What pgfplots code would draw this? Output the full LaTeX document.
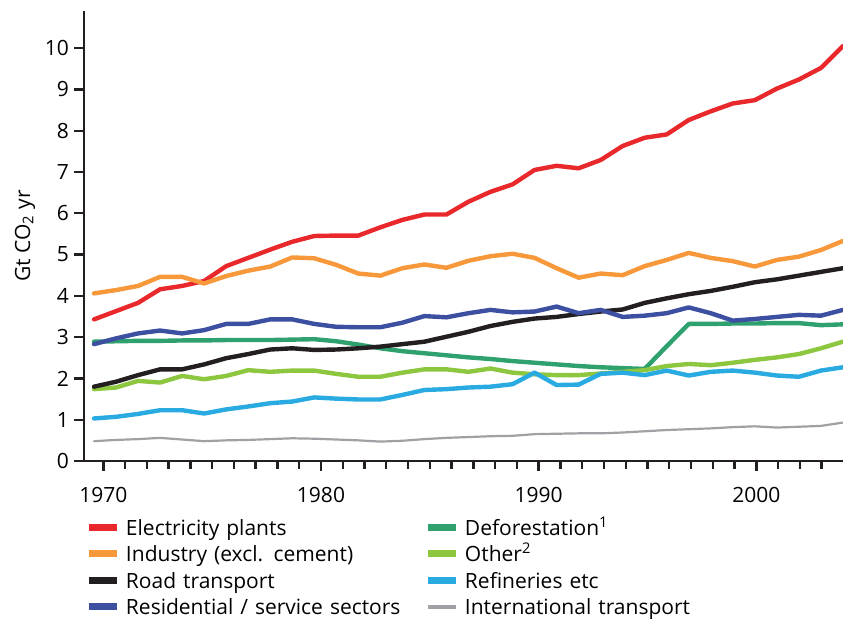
\documentclass[border=0pt]{standalone}
\usepackage{pgfplots}
\usepackage{pgfplotstable}
\usepackage{fontspec}
\setmainfont{Open Sans}
\pgfplotsset{compat=1.18}

\definecolor{cElec}{HTML}{E8282B}
\definecolor{cInd}{HTML}{F7983A}
\definecolor{cRoad}{HTML}{231F20}
\definecolor{cRes}{HTML}{3C4FA0}
\definecolor{cDef}{HTML}{2FA16F}
\definecolor{cOth}{HTML}{8DC63F}
\definecolor{cRef}{HTML}{29ABE2}
\definecolor{cInt}{HTML}{9FA1A4}

\pgfplotstableread{
year elec  ind  road res  def  oth  ref  intl
1970 3.43 4.06 1.80 2.83 2.89 1.74 1.03 0.48
1971 3.63 4.14 1.92 2.97 2.90 1.78 1.07 0.51
1972 3.83 4.24 2.08 3.09 2.91 1.94 1.14 0.53
1973 4.16 4.46 2.22 3.16 2.91 1.90 1.23 0.56
1974 4.24 4.46 2.22 3.09 2.92 2.06 1.23 0.52
1975 4.36 4.30 2.34 3.17 2.92 1.98 1.15 0.48
1976 4.72 4.48 2.49 3.32 2.93 2.06 1.25 0.50
1977 4.92 4.61 2.59 3.32 2.93 2.20 1.32 0.51
1978 5.12 4.71 2.70 3.43 2.93 2.16 1.40 0.53
1979 5.31 4.93 2.73 3.43 2.94 2.19 1.44 0.55
1980 5.45 4.91 2.69 3.32 2.95 2.19 1.54 0.54
1981 5.46 4.75 2.70 3.25 2.90 2.11 1.51 0.52
1982 5.46 4.54 2.73 3.24 2.82 2.04 1.49 0.50
1983 5.66 4.49 2.77 3.24 2.73 2.04 1.49 0.47
1984 5.84 4.67 2.83 3.35 2.66 2.14 1.60 0.49
1985 5.97 4.76 2.89 3.51 2.61 2.22 1.72 0.53
1986 5.97 4.68 3.01 3.48 2.56 2.22 1.74 0.56
1987 6.28 4.85 3.13 3.58 2.51 2.16 1.78 0.58
1988 6.52 4.96 3.27 3.66 2.47 2.24 1.80 0.60
1989 6.70 5.02 3.37 3.60 2.42 2.14 1.86 0.61
1990 7.05 4.92 3.45 3.62 2.38 2.10 2.14 0.65
1991 7.15 4.67 3.49 3.74 2.34 2.08 1.84 0.66
1992 7.09 4.44 3.56 3.58 2.30 2.08 1.85 0.67
1993 7.29 4.54 3.62 3.66 2.27 2.12 2.11 0.67
1994 7.63 4.50 3.67 3.49 2.25 2.16 2.14 0.69
1995 7.83 4.72 3.83 3.52 2.23 2.20 2.08 0.72
1996 7.91 4.87 3.94 3.58 2.78 2.30 2.19 0.75
1997 8.26 5.04 4.04 3.72 3.32 2.35 2.07 0.77
1998 8.47 4.92 4.12 3.58 3.32 2.32 2.16 0.79
1999 8.66 4.84 4.22 3.40 3.33 2.38 2.19 0.82
2000 8.74 4.71 4.33 3.44 3.33 2.45 2.14 0.84
2001 9.02 4.87 4.40 3.49 3.34 2.51 2.07 0.81
2002 9.24 4.95 4.49 3.54 3.34 2.59 2.04 0.83
2003 9.52 5.11 4.58 3.52 3.29 2.73 2.19 0.85
2004 10.05 5.33 4.67 3.66 3.31 2.89 2.27 0.93
}\datatable

\begin{document}
\begin{tikzpicture}
\path[use as bounding box] (0,0) rectangle (421.5pt,310.5pt);
\begin{axis}[
  at={(42pt,80pt)}, anchor=south west,
  scale only axis, width=379.5pt, height=225pt,
  xmin=1969.113, xmax=2003.98, ymin=0, ymax=10.9,
  clip=false,
  axis lines=left,
  axis line style={-, line width=1.3pt, color=cRoad},
  tick align=outside,
  xtick={1970,1980,1990,2000},
  minor xtick={1971,...,1979,1981,1982,...,1989,1991,1992,...,1999,2001,2002,2003},
  ytick={0,1,...,10},
  major tick length=5pt, minor tick length=4pt,
  every tick/.style={cRoad, line width=1.2pt},
  /pgf/number format/1000 sep={},
  /pgf/number format/assume math mode=true,
  tick label style={font=\fontsize{10.5}{12}\selectfont},
  xticklabel style={yshift=-4.5pt},
  yticklabel style={xshift=1pt},
  ylabel={Gt CO\textsubscript{2} yr},
  ylabel style={at={(axis description cs:-0.0777,0.5)}, anchor=center, font=\fontsize{10.5}{12}\selectfont},
  legend columns=2,
  legend cell align=left,
  legend style={at={(0,0)}, anchor=north west, xshift=1pt, yshift=-28.1pt,
    draw=none, fill=none, inner sep=0pt, outer sep=0pt, row sep=1.25pt,
    font=\fontsize{10.5}{12}\selectfont,
    nodes={inner sep=0pt, text width=149.5pt, text height=9pt, text depth=3pt, align=left},
    /tikz/every odd column/.style={column sep=2.5pt}},
  legend image code/.code={\draw[#1, line width=3.5pt, line cap=butt] (0pt,1pt) -- (14pt,1pt);},
  every axis plot/.append style={line join=round, line cap=round},
]
\addplot[cElec, line width=2.2pt] table[x expr={1969.573+1.0119*(\thisrow{year}-1970)}, y=elec]{\datatable};
\addlegendentry{Electricity plants}
\addplot[cDef, line width=2.2pt] table[x expr={1969.573+1.0119*(\thisrow{year}-1970)}, y=def]{\datatable};
\addlegendentry{Deforestation\textsuperscript{1}}
\addplot[cInd, line width=2.2pt] table[x expr={1969.573+1.0119*(\thisrow{year}-1970)}, y=ind]{\datatable};
\addlegendentry{Industry (excl. cement)}
\addplot[cOth, line width=2.2pt] table[x expr={1969.573+1.0119*(\thisrow{year}-1970)}, y=oth]{\datatable};
\addlegendentry{Other\textsuperscript{2}}
\addplot[cRoad, line width=2.2pt] table[x expr={1969.573+1.0119*(\thisrow{year}-1970)}, y=road]{\datatable};
\addlegendentry{Road transport}
\addplot[cRef, line width=2.2pt] table[x expr={1969.573+1.0119*(\thisrow{year}-1970)}, y=ref]{\datatable};
\addlegendentry{Refineries etc}
\addplot[cRes, line width=2.2pt] table[x expr={1969.573+1.0119*(\thisrow{year}-1970)}, y=res]{\datatable};
\addlegendentry{Residential / service sectors}
\addplot[cInt, line width=1.1pt, legend image code/.code={\draw[cInt, line width=2pt, line cap=butt] (0pt,1pt) -- (14pt,1pt);}] table[x expr={1969.573+1.0119*(\thisrow{year}-1970)}, y=intl]{\datatable};
\addlegendentry{International transport}
\end{axis}
\end{tikzpicture}
\end{document}
